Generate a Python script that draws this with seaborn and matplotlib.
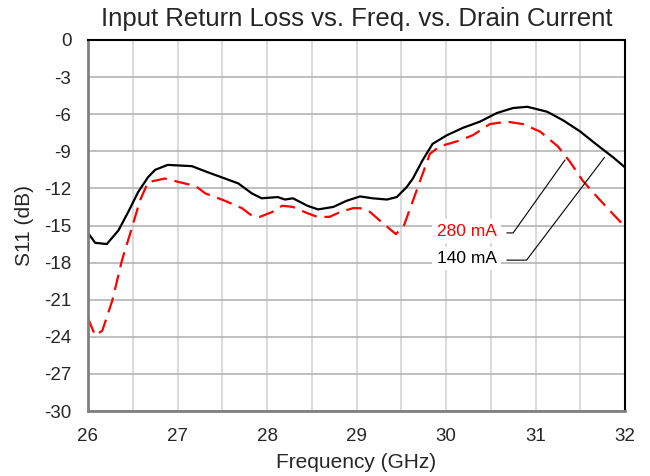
import matplotlib
matplotlib.use("Agg")
import matplotlib.pyplot as plt
import seaborn as sns
import pandas as pd
import numpy as np

# ---- data ----
freq_140 = [26.0, 26.08, 26.21, 26.34, 26.45, 26.56, 26.67, 26.75, 26.89, 27.16, 27.34, 27.53, 27.68, 27.83, 27.94,
            28.12, 28.2, 28.29, 28.45, 28.57, 28.74, 28.89, 29.04, 29.18, 29.34, 29.45, 29.56, 29.63, 29.74,
            29.85, 30.01, 30.19, 30.38, 30.57, 30.75, 30.91, 31.13, 31.31, 31.5, 31.69, 31.87, 32.0]
s11_140 = [-15.6, -16.4, -16.5, -15.4, -13.9, -12.3, -11.1, -10.5, -10.1, -10.2, -10.7, -11.2, -11.6, -12.4, -12.8,
           -12.7, -12.9, -12.8, -13.4, -13.7, -13.5, -13.0, -12.65, -12.8, -12.9, -12.7, -11.9, -11.2, -9.7,
           -8.4, -7.7, -7.1, -6.6, -5.9, -5.5, -5.4, -5.8, -6.5, -7.4, -8.5, -9.5, -10.3]

freq_280 = [26.0, 26.08, 26.16, 26.27, 26.38, 26.49, 26.58, 26.67, 26.86, 27.08, 27.2, 27.31, 27.53, 27.72, 27.83,
            27.92, 28.06, 28.17, 28.29, 28.45, 28.56, 28.7, 28.82, 28.96, 29.04, 29.15, 29.26, 29.44, 29.53,
            29.63, 29.71, 29.82, 29.93, 30.12, 30.3, 30.49, 30.68, 30.86, 31.05, 31.25, 31.39, 31.53, 31.69,
            31.83, 32.0]
s11_280 = [-22.5, -23.9, -23.5, -21.1, -17.8, -15.2, -13.0, -11.5, -11.2, -11.6, -11.8, -12.4, -13.0, -13.6, -14.2,
           -14.3, -13.9, -13.4, -13.5, -14.0, -14.3, -14.3, -13.9, -13.6, -13.6, -13.9, -14.6, -15.7, -15.0,
           -13.0, -11.4, -9.2, -8.6, -8.2, -7.7, -6.8, -6.6, -6.8, -7.4, -8.6, -9.9, -11.4, -12.7,
           -13.8, -15.1]

series_labels = ["140 mA", "280 mA"]
series_colors = ["#000000", "#ff0000"]
x_ticks = [26, 27, 28, 29, 30, 31, 32]
y_ticks = [0, -3, -6, -9, -12, -15, -18, -21, -24, -27, -30]

df = pd.concat([
    pd.DataFrame({"Frequency": freq_140, "S11": s11_140, "Current": series_labels[0]}),
    pd.DataFrame({"Frequency": freq_280, "S11": s11_280, "Current": series_labels[1]}),
], ignore_index=True)

sns.set_style("white")
plt.rcParams["font.family"] = ["Liberation Sans", "DejaVu Sans"]

fig = plt.figure(figsize=(6.5, 4.76), dpi=100)
ax = fig.add_axes([88 / 650, 1 - 411 / 476, (625 - 88) / 650, (411 - 40) / 476])

sns.lineplot(data=df, x="Frequency", y="S11", hue="Current", style="Current",
             palette=dict(zip(series_labels, series_colors)),
             dashes={series_labels[0]: "", series_labels[1]: (7, 3.5)},
             linewidth=1.6, ax=ax, legend=False, sort=True, estimator=None)

ax.set_xlim(26, 32)
ax.set_ylim(-30, 0)
ax.set_xticks(x_ticks)
ax.set_xticks(np.arange(26, 32.01, 0.5), minor=True)
ax.set_yticks(y_ticks)
ax.set_xticklabels([str(t) for t in x_ticks], fontsize=13.5)
ax.set_yticklabels([str(t) for t in y_ticks], fontsize=13.5)
ax.tick_params(axis="x", which="both", length=0, pad=12)
ax.tick_params(axis="y", which="both", length=0, pad=12)

ax.grid(axis="y", which="major", color="#b4b4b4", linewidth=1.2)
ax.grid(axis="x", which="both", color="#d4d4d4", linewidth=1.2)
ax.set_axisbelow(True)

for s in ["left", "bottom"]:
    ax.spines[s].set_color("#808080")
    ax.spines[s].set_linewidth(2)
for s in ["top", "right"]:
    ax.spines[s].set_color("#000000")
    ax.spines[s].set_linewidth(1.5)

ax.set_xlabel("Frequency (GHz)", fontsize=15, labelpad=6)
ax.set_ylabel("S11 (dB)", fontsize=15, labelpad=7)
ax.set_title("Input Return Loss vs. Freq. vs. Drain Current", fontsize=18.5, pad=10)

# callouts
ax.plot([30.68, 30.75, 31.33], [-15.6, -15.6, -9.7], color="#000000", linewidth=0.8, zorder=3)
ax.plot([30.68, 30.9, 31.77], [-17.8, -17.8, -9.5], color="#000000", linewidth=0.8, zorder=3)
ax.text(30.23, -15.45, series_labels[1], color=series_colors[1], fontsize=12.5, ha="center", va="center",
        bbox=dict(facecolor="white", edgecolor="none", pad=3), zorder=4)
ax.text(30.23, -17.65, series_labels[0], color=series_colors[0], fontsize=12.5, ha="center", va="center",
        bbox=dict(facecolor="white", edgecolor="none", pad=3), zorder=4)

fig.savefig("out.png", dpi=100)
